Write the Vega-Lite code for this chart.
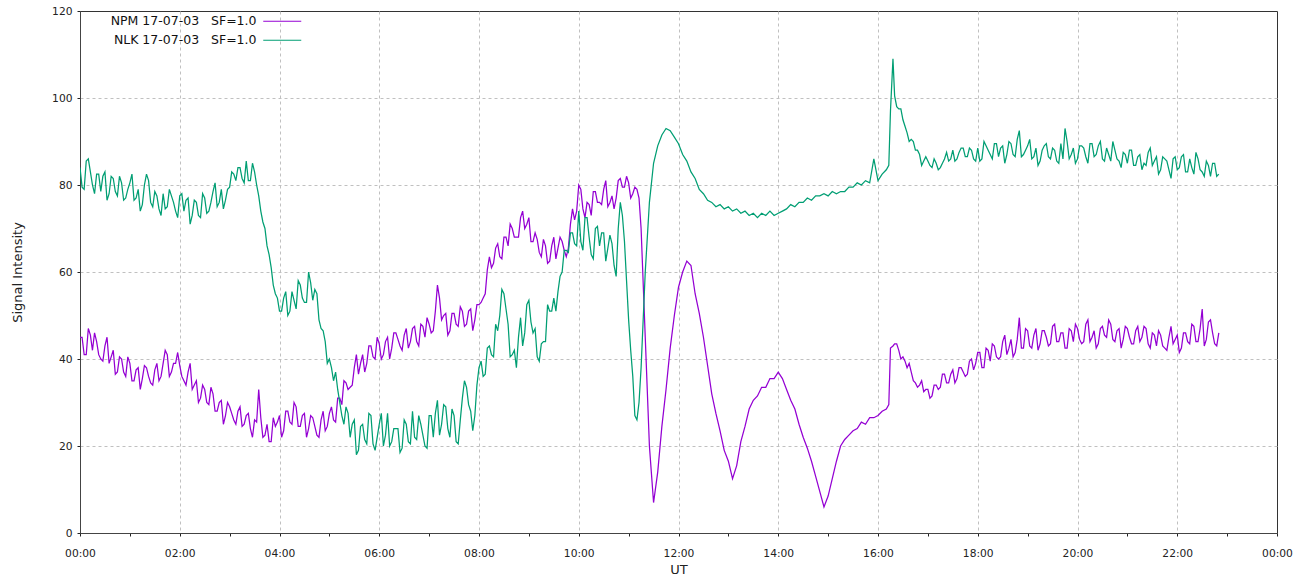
{
  "$schema": "https://vega.github.io/schema/vega-lite/v6.json",
  "width": 1197,
  "height": 522,
  "autosize": "none",
  "padding": {"left": 80, "top": 11, "right": 27, "bottom": 54},
  "background": "white",
  "config": {
    "font": "DejaVu Sans",
    "view": {"stroke": "#333333", "strokeWidth": 1},
    "axis": {
      "domainColor": "#444444",
      "tickColor": "#222222",
      "labelColor": "#222222",
      "titleColor": "#222222",
      "labelFont": "DejaVu Sans",
      "titleFont": "DejaVu Sans",
      "labelFontSize": 10.7,
      "titleFontSize": 13,
      "titleFontWeight": "normal",
      "tickSize": 3
    }
  },
  "data": {
    "values": [
      {"m":0,"NPM":45,"NLK":84},{"m":5,"NPM":41,"NLK":79},{"m":10,"NPM":47,"NLK":86},{"m":15,"NPM":42,"NLK":80},
      {"m":20,"NPM":44,"NLK":82.5},{"m":25,"NPM":40,"NLK":78.5},{"m":30,"NPM":43,"NLK":83},{"m":35,"NPM":39,"NLK":78},
      {"m":40,"NPM":42,"NLK":81.5},{"m":45,"NPM":37,"NLK":77.5},{"m":50,"NPM":40,"NLK":80.5},{"m":55,"NPM":36,"NLK":77},
      {"m":60,"NPM":39,"NLK":80.5},{"m":65,"NPM":35,"NLK":76.5},{"m":70,"NPM":38,"NLK":79},{"m":75,"NPM":35.5,"NLK":75.5},
      {"m":80,"NPM":38,"NLK":82.5},{"m":85,"NPM":34.5,"NLK":76},{"m":90,"NPM":37.5,"NLK":78.5},{"m":95,"NPM":35,"NLK":74.5},
      {"m":100,"NPM":39,"NLK":78},{"m":105,"NPM":41,"NLK":75},{"m":110,"NPM":37,"NLK":77.5},{"m":115,"NPM":39,"NLK":74},
      {"m":120,"NPM":38.5,"NLK":77.5},{"m":125,"NPM":35,"NLK":74},{"m":130,"NPM":37,"NLK":77},{"m":135,"NPM":33,"NLK":73},
      {"m":140,"NPM":35,"NLK":76},{"m":145,"NPM":31,"NLK":72.5},{"m":150,"NPM":33,"NLK":77},{"m":155,"NPM":29.5,"NLK":74},
      {"m":160,"NPM":32,"NLK":78.5},{"m":165,"NPM":28,"NLK":75},{"m":170,"NPM":30.5,"NLK":79},{"m":175,"NPM":27,"NLK":76.5},
      {"m":180,"NPM":29,"NLK":79.5},{"m":185,"NPM":26,"NLK":82.5},{"m":190,"NPM":28,"NLK":84},{"m":195,"NPM":24.5,"NLK":81.5},
      {"m":200,"NPM":27,"NLK":85.5},{"m":205,"NPM":24,"NLK":81},{"m":210,"NPM":26,"NLK":83},{"m":215,"NPM":33,"NLK":77.5},
      {"m":220,"NPM":22,"NLK":71.5},{"m":225,"NPM":25,"NLK":66},{"m":230,"NPM":21,"NLK":61},{"m":235,"NPM":24.5,"NLK":55},
      {"m":240,"NPM":27,"NLK":51},{"m":245,"NPM":23.5,"NLK":54},{"m":250,"NPM":28,"NLK":50},{"m":255,"NPM":25,"NLK":55.5},
      {"m":260,"NPM":29,"NLK":51.5},{"m":265,"NPM":24.5,"NLK":57},{"m":270,"NPM":27.5,"NLK":53},{"m":275,"NPM":24,"NLK":60},
      {"m":280,"NPM":26.5,"NLK":53.5},{"m":285,"NPM":22.5,"NLK":55},{"m":290,"NPM":26,"NLK":47},{"m":295,"NPM":23.5,"NLK":44},
      {"m":300,"NPM":27.5,"NLK":40},{"m":305,"NPM":26,"NLK":35},{"m":310,"NPM":31,"NLK":33},{"m":315,"NPM":29.5,"NLK":27},
      {"m":320,"NPM":34.5,"NLK":29},{"m":325,"NPM":33.5,"NLK":22},{"m":330,"NPM":38,"NLK":26},{"m":335,"NPM":36.5,"NLK":19},
      {"m":340,"NPM":41,"NLK":25},{"m":345,"NPM":39,"NLK":20.5},{"m":350,"NPM":43,"NLK":27},{"m":355,"NPM":40,"NLK":19},
      {"m":360,"NPM":43.5,"NLK":25},{"m":365,"NPM":41,"NLK":20},{"m":370,"NPM":45,"NLK":27.5},{"m":375,"NPM":42.5,"NLK":21},
      {"m":380,"NPM":46,"NLK":24},{"m":385,"NPM":43,"NLK":18.5},{"m":390,"NPM":45.5,"NLK":26},{"m":395,"NPM":42.5,"NLK":21},
      {"m":400,"NPM":47,"NLK":28},{"m":405,"NPM":44,"NLK":21.5},{"m":410,"NPM":48,"NLK":25},{"m":415,"NPM":45,"NLK":20},
      {"m":420,"NPM":48,"NLK":27},{"m":425,"NPM":46.5,"NLK":22},{"m":430,"NPM":57,"NLK":30.5},{"m":435,"NPM":49,"NLK":25},
      {"m":440,"NPM":50.5,"NLK":29},{"m":445,"NPM":46.5,"NLK":22},{"m":450,"NPM":50.5,"NLK":27},{"m":455,"NPM":47.5,"NLK":20.5},
      {"m":460,"NPM":51,"NLK":31},{"m":465,"NPM":48,"NLK":33.5},{"m":470,"NPM":51.5,"NLK":28},{"m":475,"NPM":49,"NLK":27},
      {"m":480,"NPM":52.5,"NLK":38},{"m":485,"NPM":54,"NLK":36},{"m":490,"NPM":60.5,"NLK":42.5},{"m":495,"NPM":61,"NLK":41},
      {"m":500,"NPM":65.5,"NLK":48},{"m":505,"NPM":63.5,"NLK":50},{"m":510,"NPM":68,"NLK":55},{"m":515,"NPM":66,"NLK":48},
      {"m":520,"NPM":70,"NLK":41},{"m":525,"NPM":68,"NLK":38},{"m":530,"NPM":72.5,"NLK":49.5},{"m":535,"NPM":70,"NLK":46},
      {"m":540,"NPM":72.5,"NLK":53.5},{"m":545,"NPM":67,"NLK":46},{"m":550,"NPM":67.5,"NLK":40.5},{"m":555,"NPM":63.5,"NLK":43.5},
      {"m":560,"NPM":66,"NLK":44},{"m":565,"NPM":62.5,"NLK":51},{"m":570,"NPM":68,"NLK":54},{"m":575,"NPM":65.5,"NLK":55.5},
      {"m":580,"NPM":67,"NLK":60},{"m":585,"NPM":63.5,"NLK":65},{"m":590,"NPM":71,"NLK":69},{"m":595,"NPM":72,"NLK":66.5},
      {"m":600,"NPM":80,"NLK":74},{"m":605,"NPM":74.5,"NLK":65},{"m":610,"NPM":76,"NLK":72.5},{"m":615,"NPM":73,"NLK":64},
      {"m":620,"NPM":78.5,"NLK":70},{"m":625,"NPM":76,"NLK":66},{"m":630,"NPM":79,"NLK":69},{"m":635,"NPM":75,"NLK":65.5},
      {"m":640,"NPM":77.5,"NLK":66.5},{"m":645,"NPM":77,"NLK":59},{"m":650,"NPM":81.5,"NLK":76},{"m":655,"NPM":79.5,"NLK":67},
      {"m":660,"NPM":80.5,"NLK":49},{"m":665,"NPM":78,"NLK":36},{"m":670,"NPM":79,"NLK":26},{"m":675,"NPM":70,"NLK":38},
      {"m":680,"NPM":45,"NLK":60},{"m":685,"NPM":20,"NLK":76},{"m":690,"NPM":7,"NLK":85},{"m":695,"NPM":14,"NLK":89},
      {"m":700,"NPM":24.5,"NLK":91.5},{"m":705,"NPM":33,"NLK":93},{"m":710,"NPM":42.5,"NLK":92.5},{"m":715,"NPM":50,"NLK":91},
      {"m":720,"NPM":56.5,"NLK":89.5},{"m":725,"NPM":60,"NLK":87},{"m":730,"NPM":62.5,"NLK":85.5},{"m":735,"NPM":61.5,"NLK":83},
      {"m":740,"NPM":55,"NLK":81.5},{"m":745,"NPM":50.5,"NLK":79},{"m":750,"NPM":45,"NLK":78},{"m":755,"NPM":38.5,"NLK":76.5},
      {"m":760,"NPM":32,"NLK":76},{"m":765,"NPM":27.5,"NLK":75},{"m":770,"NPM":23.5,"NLK":75.5},{"m":775,"NPM":19,"NLK":74.5},
      {"m":780,"NPM":16.5,"NLK":75},{"m":785,"NPM":12.5,"NLK":74},{"m":790,"NPM":15.5,"NLK":74.5},{"m":795,"NPM":21,"NLK":73.5},
      {"m":800,"NPM":24.5,"NLK":74},{"m":805,"NPM":28.5,"NLK":73},{"m":810,"NPM":30.5,"NLK":73.5},{"m":815,"NPM":31.5,"NLK":72.5},
      {"m":820,"NPM":33.5,"NLK":73.5},{"m":825,"NPM":33.5,"NLK":73},{"m":830,"NPM":35.5,"NLK":74},{"m":835,"NPM":35.5,"NLK":73},
      {"m":840,"NPM":37,"NLK":73.5},{"m":845,"NPM":35.5,"NLK":74},{"m":850,"NPM":33,"NLK":74.5},{"m":855,"NPM":30.5,"NLK":75.5},
      {"m":860,"NPM":28.5,"NLK":75},{"m":865,"NPM":25,"NLK":76},{"m":870,"NPM":22,"NLK":76},{"m":875,"NPM":19.5,"NLK":77},
      {"m":880,"NPM":16.5,"NLK":76.5},{"m":885,"NPM":13,"NLK":77.5},{"m":890,"NPM":9.5,"NLK":77.5},{"m":895,"NPM":6,"NLK":78},
      {"m":900,"NPM":8.5,"NLK":77.5},{"m":905,"NPM":12.5,"NLK":78.5},{"m":910,"NPM":16.5,"NLK":78},{"m":915,"NPM":20,"NLK":78.5},
      {"m":920,"NPM":21.5,"NLK":78.5},{"m":925,"NPM":22.5,"NLK":79.5},{"m":930,"NPM":23.5,"NLK":79.5},{"m":935,"NPM":24,"NLK":80.5},
      {"m":940,"NPM":25.5,"NLK":80},{"m":945,"NPM":25,"NLK":81},{"m":950,"NPM":26.5,"NLK":80.5},{"m":955,"NPM":26.5,"NLK":86},
      {"m":960,"NPM":27,"NLK":81},{"m":965,"NPM":28,"NLK":82.5},{"m":970,"NPM":28.5,"NLK":83.5},{"m":973,"NPM":29.5,"NLK":84.5},
      {"m":975,"NPM":42.5,"NLK":97},{"m":978,"NPM":43,"NLK":109},{"m":980,"NPM":43.5,"NLK":100.5},{"m":985,"NPM":42,"NLK":97.5},
      {"m":990,"NPM":40.5,"NLK":95},{"m":995,"NPM":38,"NLK":92},{"m":1000,"NPM":37,"NLK":90.5},{"m":1005,"NPM":34.5,"NLK":88},
      {"m":1010,"NPM":34,"NLK":87},{"m":1015,"NPM":32.5,"NLK":85.5},{"m":1020,"NPM":33,"NLK":85.5},{"m":1025,"NPM":31.5,"NLK":84},
      {"m":1030,"NPM":34,"NLK":85},{"m":1035,"NPM":33.5,"NLK":84},{"m":1040,"NPM":36.5,"NLK":86},{"m":1045,"NPM":34.5,"NLK":85.5},
      {"m":1050,"NPM":37.5,"NLK":88},{"m":1055,"NPM":35.5,"NLK":86},{"m":1060,"NPM":38,"NLK":88.5},{"m":1065,"NPM":36,"NLK":86.5},
      {"m":1070,"NPM":39.5,"NLK":88.5},{"m":1075,"NPM":37.5,"NLK":86},{"m":1080,"NPM":41.5,"NLK":88.5},{"m":1085,"NPM":38,"NLK":86},
      {"m":1090,"NPM":42.5,"NLK":89},{"m":1095,"NPM":39.5,"NLK":87},{"m":1100,"NPM":43,"NLK":89.5},{"m":1105,"NPM":40,"NLK":86.5},
      {"m":1110,"NPM":44,"NLK":89},{"m":1115,"NPM":41,"NLK":87},{"m":1120,"NPM":44.5,"NLK":89.5},{"m":1125,"NPM":41.5,"NLK":86.5},
      {"m":1130,"NPM":49.5,"NLK":92.5},{"m":1135,"NPM":42.5,"NLK":87},{"m":1140,"NPM":46.5,"NLK":89},{"m":1145,"NPM":42.5,"NLK":86},
      {"m":1150,"NPM":47,"NLK":88.5},{"m":1155,"NPM":43.5,"NLK":85.5},{"m":1160,"NPM":46.5,"NLK":89},{"m":1165,"NPM":43,"NLK":86.5},
      {"m":1170,"NPM":47.5,"NLK":88.5},{"m":1175,"NPM":44,"NLK":85.5},{"m":1180,"NPM":46,"NLK":89.5},{"m":1185,"NPM":42.5,"NLK":93},
      {"m":1190,"NPM":47,"NLK":86},{"m":1195,"NPM":44,"NLK":88.5},{"m":1200,"NPM":47,"NLK":86},{"m":1205,"NPM":43.5,"NLK":89},
      {"m":1210,"NPM":48,"NLK":86.5},{"m":1215,"NPM":44,"NLK":89.5},{"m":1220,"NPM":46.5,"NLK":86.5},{"m":1225,"NPM":43.5,"NLK":89},
      {"m":1230,"NPM":47.5,"NLK":86},{"m":1235,"NPM":45,"NLK":88.5},{"m":1240,"NPM":48,"NLK":85.5},{"m":1245,"NPM":44,"NLK":88},
      {"m":1250,"NPM":47,"NLK":85.5},{"m":1255,"NPM":44.5,"NLK":87.5},{"m":1260,"NPM":47,"NLK":85},{"m":1265,"NPM":43.5,"NLK":88},
      {"m":1270,"NPM":46.5,"NLK":84.5},{"m":1275,"NPM":44,"NLK":87},{"m":1280,"NPM":47.5,"NLK":85},{"m":1285,"NPM":43.5,"NLK":87.5},
      {"m":1290,"NPM":46,"NLK":84.5},{"m":1295,"NPM":43,"NLK":86.5},{"m":1300,"NPM":45.5,"NLK":83.5},{"m":1305,"NPM":42.5,"NLK":86},
      {"m":1310,"NPM":45,"NLK":83.5},{"m":1315,"NPM":43.5,"NLK":86},{"m":1320,"NPM":45.5,"NLK":83.5},{"m":1325,"NPM":42.5,"NLK":86.5},
      {"m":1330,"NPM":46,"NLK":83},{"m":1335,"NPM":43.5,"NLK":86},{"m":1340,"NPM":47.5,"NLK":82.5},{"m":1345,"NPM":44,"NLK":86},
      {"m":1350,"NPM":51.5,"NLK":83},{"m":1355,"NPM":44.5,"NLK":85.5},{"m":1360,"NPM":49,"NLK":82},{"m":1365,"NPM":43.5,"NLK":85},
      {"m":1370,"NPM":46,"NLK":82.5},
      {"m":2.5,"NPM":45,"NLK":79.5},{"m":7.5,"NPM":41,"NLK":85.5},{"m":12.5,"NPM":45.5,"NLK":83},{"m":17.5,"NPM":46,"NLK":78},
      {"m":22.5,"NPM":41,"NLK":82.5},{"m":27.5,"NPM":39.5,"NLK":82},{"m":32.5,"NPM":45,"NLK":76.5},{"m":37.5,"NPM":40.5,"NLK":82},
      {"m":42.5,"NPM":36.5,"NLK":78.5},{"m":47.5,"NPM":40.5,"NLK":82},{"m":52.5,"NPM":37,"NLK":76.5},{"m":57.5,"NPM":40.5,"NLK":79},
      {"m":62.5,"NPM":35,"NLK":82.5},{"m":67.5,"NPM":37.5,"NLK":77},{"m":72.5,"NPM":33,"NLK":74},{"m":77.5,"NPM":38.5,"NLK":80},
      {"m":82.5,"NPM":36,"NLK":81},{"m":87.5,"NPM":34,"NLK":75},{"m":92.5,"NPM":39,"NLK":77.5},{"m":97.5,"NPM":36,"NLK":73},
      {"m":102.5,"NPM":42,"NLK":74.5},{"m":107.5,"NPM":36,"NLK":79},{"m":112.5,"NPM":39,"NLK":76},{"m":117.5,"NPM":41.5,"NLK":72.5},
      {"m":122.5,"NPM":36,"NLK":78},{"m":127.5,"NPM":34,"NLK":76.5},{"m":132.5,"NPM":39,"NLK":71},{"m":137.5,"NPM":34,"NLK":76.5},
      {"m":142.5,"NPM":30,"NLK":73},{"m":147.5,"NPM":34,"NLK":78},{"m":152.5,"NPM":30,"NLK":73.5},{"m":157.5,"NPM":33.5,"NLK":76},
      {"m":162.5,"NPM":28,"NLK":80.5},{"m":167.5,"NPM":30,"NLK":76},{"m":172.5,"NPM":25,"NLK":74.5},{"m":177.5,"NPM":30,"NLK":79},
      {"m":182.5,"NPM":27.5,"NLK":83},{"m":187.5,"NPM":25,"NLK":81},{"m":192.5,"NPM":29,"NLK":84},{"m":197.5,"NPM":25,"NLK":80.5},
      {"m":202.5,"NPM":27.5,"NLK":81},{"m":207.5,"NPM":22,"NLK":85},{"m":212.5,"NPM":25.5,"NLK":80},{"m":217.5,"NPM":26.5,"NLK":74},
      {"m":222.5,"NPM":22.5,"NLK":70},{"m":227.5,"NPM":21,"NLK":64},{"m":232.5,"NPM":26.5,"NLK":57},{"m":237.5,"NPM":25.5,"NLK":54},
      {"m":242.5,"NPM":22,"NLK":51},{"m":247.5,"NPM":28,"NLK":55.5},{"m":252.5,"NPM":25.5,"NLK":51},{"m":257.5,"NPM":30,"NLK":53.5},
      {"m":262.5,"NPM":24.5,"NLK":58},{"m":267.5,"NPM":27,"NLK":54},{"m":272.5,"NPM":22,"NLK":53},{"m":277.5,"NPM":27,"NLK":57.5},
      {"m":282.5,"NPM":24.5,"NLK":56},{"m":287.5,"NPM":22,"NLK":49},{"m":292.5,"NPM":28,"NLK":46.5},{"m":297.5,"NPM":24.5,"NLK":39},
      {"m":302.5,"NPM":29,"NLK":38},{"m":307.5,"NPM":25.5,"NLK":37},{"m":312.5,"NPM":31,"NLK":30},{"m":317.5,"NPM":35,"NLK":25},
      {"m":322.5,"NPM":33,"NLK":27.5},{"m":327.5,"NPM":34,"NLK":25},{"m":332.5,"NPM":41,"NLK":18},{"m":337.5,"NPM":39,"NLK":24.5},
      {"m":342.5,"NPM":37,"NLK":21.5},{"m":347.5,"NPM":43,"NLK":27.5},{"m":352.5,"NPM":40.5,"NLK":20.5},{"m":357.5,"NPM":45,"NLK":22},
      {"m":362.5,"NPM":40,"NLK":27.5},{"m":367.5,"NPM":44,"NLK":22.5},{"m":372.5,"NPM":40,"NLK":20},{"m":377.5,"NPM":46,"NLK":24},
      {"m":382.5,"NPM":44.5,"NLK":24},{"m":387.5,"NPM":42,"NLK":19.5},{"m":392.5,"NPM":47,"NLK":25},{"m":397.5,"NPM":44,"NLK":20.5},
      {"m":402.5,"NPM":47.5,"NLK":22},{"m":407.5,"NPM":43,"NLK":27},{"m":412.5,"NPM":47.5,"NLK":22.5},{"m":417.5,"NPM":49.5,"NLK":19.5},
      {"m":422.5,"NPM":46,"NLK":27},{"m":427.5,"NPM":51,"NLK":27.5},{"m":432.5,"NPM":54,"NLK":22.5},{"m":437.5,"NPM":50,"NLK":29.5},
      {"m":442.5,"NPM":45.5,"NLK":24},{"m":447.5,"NPM":50.5,"NLK":28.5},{"m":452.5,"NPM":48,"NLK":21},{"m":457.5,"NPM":52,"NLK":26},
      {"m":462.5,"NPM":47.5,"NLK":35},{"m":467.5,"NPM":51,"NLK":29.5},{"m":472.5,"NPM":46.5,"NLK":23.5},{"m":477.5,"NPM":52.5,"NLK":34},
      {"m":482.5,"NPM":53,"NLK":39.5},{"m":487.5,"NPM":55,"NLK":36.5},{"m":492.5,"NPM":63.5,"NLK":43},{"m":497.5,"NPM":62,"NLK":40.5},
      {"m":502.5,"NPM":66.5,"NLK":46.5},{"m":507.5,"NPM":63,"NLK":56},{"m":512.5,"NPM":68,"NLK":51.5},{"m":517.5,"NPM":71,"NLK":40.5},
      {"m":522.5,"NPM":68,"NLK":42},{"m":527.5,"NPM":68,"NLK":45},{"m":532.5,"NPM":74,"NLK":43},{"m":537.5,"NPM":71,"NLK":52.5},
      {"m":542.5,"NPM":67,"NLK":48.5},{"m":547.5,"NPM":69,"NLK":47},{"m":552.5,"NPM":64.5,"NLK":39.5},{"m":557.5,"NPM":67.5,"NLK":44},
      {"m":562.5,"NPM":62,"NLK":52.5},{"m":567.5,"NPM":66,"NLK":51},{"m":572.5,"NPM":63,"NLK":51},{"m":577.5,"NPM":68,"NLK":59},
      {"m":582.5,"NPM":65,"NLK":65},{"m":587.5,"NPM":65.5,"NLK":64.5},{"m":592.5,"NPM":74.5,"NLK":69},{"m":597.5,"NPM":74,"NLK":66},
      {"m":602.5,"NPM":79,"NLK":67},{"m":607.5,"NPM":72.5,"NLK":72.5},{"m":612.5,"NPM":75.5,"NLK":68},{"m":617.5,"NPM":78.5,"NLK":63},
      {"m":622.5,"NPM":76,"NLK":70.5},{"m":627.5,"NPM":75.5,"NLK":69},{"m":632.5,"NPM":81,"NLK":62.5},{"m":637.5,"NPM":76,"NLK":68.5},
      {"m":642.5,"NPM":74.5,"NLK":61.5},{"m":647.5,"NPM":81,"NLK":70},{"m":652.5,"NPM":79.5,"NLK":73},{"m":657.5,"NPM":82,"NLK":58},
      {"m":662.5,"NPM":77,"NLK":42},{"m":667.5,"NPM":79.5,"NLK":27},{"m":672.5,"NPM":77,"NLK":30},
      {"m":982.5,"NPM":43.5,"NLK":98},{"m":987.5,"NPM":40,"NLK":97.5},{"m":992.5,"NPM":39.5,"NLK":93.5},{"m":997.5,"NPM":39,"NLK":90},
      {"m":1002.5,"NPM":35,"NLK":90},{"m":1007.5,"NPM":33.5,"NLK":88},{"m":1012.5,"NPM":35,"NLK":84.5},{"m":1017.5,"NPM":33,"NLK":86.5},
      {"m":1022.5,"NPM":31,"NLK":84.5},{"m":1027.5,"NPM":34,"NLK":86},{"m":1032.5,"NPM":33,"NLK":83.5},{"m":1037.5,"NPM":36.5,"NLK":85},
      {"m":1042.5,"NPM":34.5,"NLK":87.5},{"m":1047.5,"NPM":36.5,"NLK":86},{"m":1052.5,"NPM":34.5,"NLK":85.5},{"m":1057.5,"NPM":38,"NLK":87.5},
      {"m":1062.5,"NPM":37,"NLK":88.5},{"m":1067.5,"NPM":36.5,"NLK":86.5},{"m":1072.5,"NPM":40,"NLK":88},{"m":1077.5,"NPM":39,"NLK":85.5},
      {"m":1082.5,"NPM":41.5,"NLK":85.5},{"m":1087.5,"NPM":38,"NLK":90},{"m":1092.5,"NPM":42,"NLK":88},{"m":1097.5,"NPM":43.5,"NLK":86},
      {"m":1102.5,"NPM":40.5,"NLK":89.5},{"m":1107.5,"NPM":40.5,"NLK":88.5},{"m":1112.5,"NPM":45.5,"NLK":85},{"m":1117.5,"NPM":42.5,"NLK":90},
      {"m":1122.5,"NPM":40.5,"NLK":87},{"m":1127.5,"NPM":44.5,"NLK":90.5},{"m":1132.5,"NPM":42.5,"NLK":86.5},{"m":1137.5,"NPM":47,"NLK":88},
      {"m":1142.5,"NPM":43,"NLK":90.5},{"m":1147.5,"NPM":45.5,"NLK":86.5},{"m":1152.5,"NPM":42,"NLK":84.5},{"m":1157.5,"NPM":46.5,"NLK":88},
      {"m":1162.5,"NPM":45,"NLK":89.5},{"m":1167.5,"NPM":43.5,"NLK":86},{"m":1172.5,"NPM":48,"NLK":88},{"m":1177.5,"NPM":44,"NLK":85},
      {"m":1182.5,"NPM":46,"NLK":86},{"m":1187.5,"NPM":42.5,"NLK":90},{"m":1192.5,"NPM":46.5,"NLK":87},{"m":1197.5,"NPM":48,"NLK":85},
      {"m":1202.5,"NPM":44.5,"NLK":89},{"m":1207.5,"NPM":44,"NLK":88.5},{"m":1212.5,"NPM":49,"NLK":85},{"m":1217.5,"NPM":45,"NLK":89.5},
      {"m":1222.5,"NPM":42.5,"NLK":87},{"m":1227.5,"NPM":47,"NLK":90},{"m":1232.5,"NPM":45.5,"NLK":85.5},{"m":1237.5,"NPM":49,"NLK":87},
      {"m":1242.5,"NPM":44.5,"NLK":90},{"m":1247.5,"NPM":46.5,"NLK":86},{"m":1252.5,"NPM":42.5,"NLK":84},{"m":1257.5,"NPM":47.5,"NLK":87},
      {"m":1262.5,"NPM":45,"NLK":88},{"m":1267.5,"NPM":43.5,"NLK":84.5},{"m":1272.5,"NPM":47.5,"NLK":86.5},{"m":1277.5,"NPM":45,"NLK":83.5},
      {"m":1282.5,"NPM":47,"NLK":84.5},{"m":1287.5,"NPM":42.5,"NLK":88.5},{"m":1292.5,"NPM":45.5,"NLK":85.5},{"m":1297.5,"NPM":46.5,"NLK":82.5},
      {"m":1302.5,"NPM":43,"NLK":86.5},{"m":1307.5,"NPM":42,"NLK":85.5},{"m":1312.5,"NPM":47.5,"NLK":81.5},{"m":1317.5,"NPM":44.5,"NLK":86.5},
      {"m":1322.5,"NPM":41.5,"NLK":84},{"m":1327.5,"NPM":46,"NLK":87},{"m":1332.5,"NPM":44,"NLK":83},{"m":1337.5,"NPM":48,"NLK":84},
      {"m":1342.5,"NPM":44,"NLK":87.5},{"m":1347.5,"NPM":47,"NLK":83.5},{"m":1352.5,"NPM":43,"NLK":82},{"m":1357.5,"NPM":48.5,"NLK":84.5},
      {"m":1362.5,"NPM":46,"NLK":85},{"m":1367.5,"NPM":43,"NLK":82}
    ]
  },
  "transform": [{"fold": ["NPM", "NLK"], "as": ["series", "v"]}],
  "mark": {"type": "line", "strokeWidth": 1.25, "clip": true},
  "encoding": {
    "x": {
      "field": "m",
      "type": "quantitative",
      "scale": {"domain": [0, 1440], "nice": false, "zero": false},
      "axis": {
        "title": "UT",
        "titlePadding": 6,
        "values": [0,60,120,180,240,300,360,420,480,540,600,660,720,780,840,900,960,1020,1080,1140,1200,1260,1320,1380,1440],
        "labelExpr": "datum.value % 120 === 0 ? ((floor(datum.value/60) % 24 < 10 ? '0' : '') + (floor(datum.value/60) % 24) + ':00') : ''",
        "labelPadding": 12,
        "labelFlush": false,
        "labelOverlap": false,
        "grid": true,
        "gridDash": [3, 3],
        "gridColor": "#c0c0c0",
        "gridOpacity": {"condition": {"test": "datum.value % 120 === 0 && datum.value > 0 && datum.value < 1440", "value": 1}, "value": 0}
      }
    },
    "y": {
      "field": "v",
      "type": "quantitative",
      "scale": {"domain": [0, 120], "nice": false},
      "axis": {
        "title": "Signal Intensity",
        "titlePadding": 27,
        "values": [0,20,40,60,80,100,120],
        "labelPadding": 5,
        "grid": true,
        "gridDash": [3, 3],
        "gridColor": "#c0c0c0",
        "gridOpacity": {"condition": {"test": "datum.value > 0 && datum.value < 120", "value": 1}, "value": 0}
      }
    },
    "color": {
      "field": "series",
      "type": "nominal",
      "sort": ["NPM", "NLK"],
      "scale": {"domain": ["NPM", "NLK"], "range": ["#9400D3", "#009E73"]},
      "legend": {
        "title": null,
        "orient": "none",
        "legendX": 196,
        "legendY": 4,
        "symbolType": "M-9.5,0H9.5",
        "symbolSize": 16,
        "symbolStrokeWidth": 1.2,
        "labelAlign": "right",
        "labelOffset": -32,
        "labelFont": "DejaVu Sans",
        "labelFontSize": 12.5,
        "labelColor": "#111111",
        "rowPadding": 6,
        "labelExpr": "datum.label == 'NPM' ? 'NPM 17-07-03\u00a0\u00a0\u00a0SF=1.0' : 'NLK 17-07-03\u00a0\u00a0\u00a0SF=1.0'"
      }
    }
  }
}
